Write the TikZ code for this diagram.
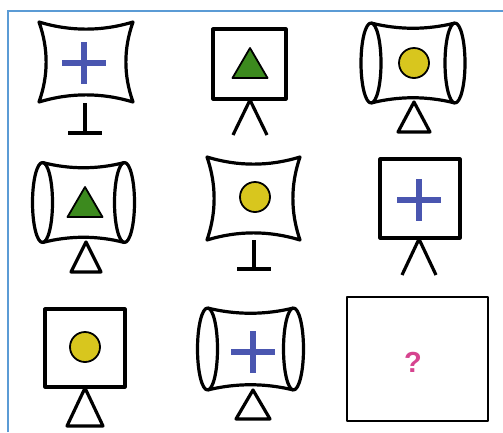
\documentclass[tikz,border=0pt]{standalone}
\usepackage{fontspec}
\setmainfont{Liberation Sans}
\definecolor{framecol}{HTML}{5B9BD5}
\definecolor{crossc}{HTML}{4A56B0}
\definecolor{grn}{HTML}{3C8A1E}
\definecolor{ylw}{HTML}{D8C61E}
\definecolor{qcol}{HTML}{D6448F}
\tikzset{
  blk/.style={line width=3.2pt, draw=black, line join=round},
  pics/concave/.style 2 args={code={
    \draw[blk] (-#1,-#2) .. controls ({-#1/3},{-#2+9.5}) and ({#1/3},{-#2+9.5}) .. (#1,-#2)
      .. controls ({#1-9.5},{-#2/3}) and ({#1-9.5},{#2/3}) .. (#1,#2)
      .. controls ({#1/3},{#2-9.5}) and ({-#1/3},{#2-9.5}) .. (-#1,#2)
      .. controls ({-#1+9.5},{#2/3}) and ({-#1+9.5},{-#2/3}) .. cycle;}},
  pics/cylframe/.style 2 args={code={
    \draw[blk] (-#1,0) ellipse [x radius=10pt, y radius=#2pt];
    \draw[blk] (#1,0) ellipse [x radius=10pt, y radius=#2pt];
    \draw[blk] (-#1,-#2) .. controls ({-#1/3},{-#2+7}) and ({#1/3},{-#2+7}) .. (#1,-#2);
    \draw[blk] (-#1,#2) .. controls ({-#1/3},{#2-7}) and ({#1/3},{#2-7}) .. (#1,#2);}},
  pics/sqframe/.style 2 args={code={
    \draw[blk] (-#1,-#2) rectangle (#1,#2);}},
  pics/tstand/.style 2 args={code={
    \draw[blk] (0,0) -- (0,#1);
    \draw[blk] (-#2,#1) -- (#2,#1);}},
  pics/lstand/.style 2 args={code={
    \draw[blk] (-#2,#1) -- (0,0) -- (#2,#1);}},
  pics/tristand/.style 2 args={code={
    \draw[blk] (0,0) -- (-#2,#1) -- (#2,#1) -- cycle;}},
  pics/crossmark/.style={code={
    \draw[crossc, line width=5.5pt] (-22,0) -- (22,0) (0,-21) -- (0,21);}},
  pics/greentri/.style={code={
    \filldraw[fill=grn, draw=black, line width=1.8pt, line join=round] (0,-15) -- (17.5,15) -- (-17.5,15) -- cycle;}},
  pics/yellowdot/.style={code={
    \filldraw[fill=ylw, draw=black, line width=1.8pt] (0,0) circle (15pt);}},
}
\begin{document}
\begin{tikzpicture}[x=1pt,y=-1pt]
\useasboundingbox (0,0) rectangle (503,432);
\fill[white] (0,0) rectangle (503,432);
\draw[framecol, line width=2.2pt] (8,432) -- (8,11) -- (503,11);
% row 1
\pic at (86,62) {concave={47}{40}};
\pic at (84,63) {crossmark};
\pic at (85,103) {tstand={30}{17}};
\pic at (249.5,64) {sqframe={36.5}{35}};
\pic at (250,63) {greentri};
\pic at (250,100) {lstand={35}{17}};
\pic at (413,63) {cylframe={42}{40}};
\pic at (414,63) {yellowdot};
\pic at (414,102) {tristand={30}{16}};
% row 2
\pic at (83.5,202.5) {cylframe={41}{40}};
\pic at (85,202) {greentri};
\pic at (86,242) {tristand={30}{15}};
\pic at (253.5,198.5) {concave={46.5}{41.5}};
\pic at (255,197) {yellowdot};
\pic at (254,240) {tstand={29}{17}};
\pic at (420,198.5) {sqframe={40}{39.5}};
\pic at (419,200) {crossmark};
\pic at (419,239) {lstand={36}{17}};
% row 3
\pic at (85,348) {sqframe={40}{39}};
\pic at (85,347) {yellowdot};
\pic at (85,388) {tristand={38}{18}};
\pic at (250.5,349) {cylframe={43}{41}};
\pic at (253,352) {crossmark};
\pic at (253,390) {tristand={29}{17}};
\draw[blk, line width=2.8pt] (347,297) rectangle (488,421);
\node[text=qcol, font=\bfseries\fontsize{29}{29}\selectfont] (q) at (413,362) {?};
\end{tikzpicture}
\end{document}
